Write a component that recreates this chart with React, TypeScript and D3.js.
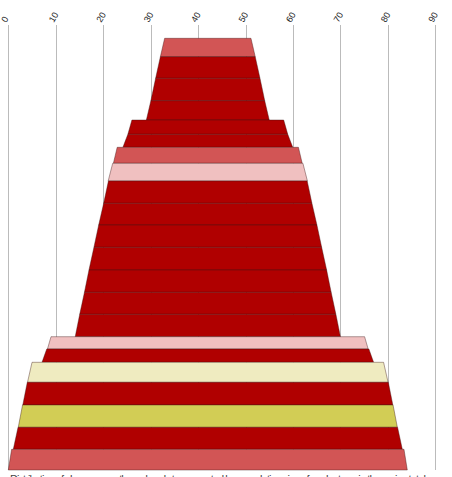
import React, { useEffect, useRef } from 'react';
import * as d3 from 'd3';

// axis ticks along the top
const ticks = [0, 10, 20, 30, 40, 50, 60, 70, 80, 90];

// band widths (axis units) at top and bottom edge, top to bottom
const topWidths = [18.2, 20.0, 22.0, 24.0, 32.0, 33.7, 38.2, 40.1, 41.9, 43.9, 46.0, 48.0, 50.1, 52.0, 54.0, 66.1, 67.9, 74.1, 76.1, 78.1, 80.0, 82.7];
const bottomWidths = [20.0, 22.0, 24.0, 25.9, 33.7, 35.8, 39.8, 42.0, 43.9, 46.0, 48.0, 50.1, 52.0, 54.0, 55.9, 67.6, 69.9, 76.0, 78.0, 79.9, 82.0, 84.1];
// band thickness
const sizes = [18.4, 21.6, 22.4, 19.3, 14.3, 13, 16, 17.7, 22.3, 21.7, 22.3, 22.7, 22.3, 22, 22.4, 12.3, 13.3, 20, 22.7, 22.3, 22, 20.7];
const kinds = ['light', 'dark', 'dark', 'dark', 'dark', 'dark', 'light', 'pink', 'dark', 'dark', 'dark', 'dark', 'dark', 'dark', 'dark', 'pink', 'dark', 'cream', 'dark', 'olive', 'dark', 'light'];
const center = 42.05;

const footer = ['Distribution of share across the ordered stages, sorted by', 'relative size of each stage in the series total'];

const fills: Record<string, string> = {
  dark: '#b00000',
  light: '#d25555',
  pink: '#f0c0c0',
  cream: '#efebc0',
  olive: '#d2cd55',
};

const App: React.FC = () => {
  const svgRef = useRef<SVGSVGElement>(null);

  useEffect(() => {
    if (!svgRef.current) return;
    const svg = d3.select(svgRef.current);
    svg.selectAll('*').remove();

    const x = d3.scaleLinear().domain([0, 90]).range([8.3, 435.3]);
    const total = d3.sum(sizes);
    const y = d3.scaleLinear().domain([0, total]).range([38.3, 470]);
    const cum = d3.cumsum(sizes);

    // gridlines
    svg.append('g')
      .selectAll('line')
      .data(ticks)
      .join('line')
      .attr('x1', d => Math.round(x(d)) + 0.5)
      .attr('x2', d => Math.round(x(d)) + 0.5)
      .attr('y1', 25)
      .attr('y2', 470)
      .attr('stroke', '#bbbbbb')
      .attr('stroke-width', 1);

    svg.append('g')
      .selectAll('text')
      .data(ticks)
      .join('text')
      .attr('transform', d => `translate(${x(d) - 2},23) rotate(-60)`)
      .attr('font-size', '9px')
      .attr('font-family', '"Liberation Sans", Arial, sans-serif')
      .attr('fill', '#222')
      .text(d => d);

    const bands = sizes.map((s, i) => {
      const y0 = y(cum[i] - s);
      const y1 = y(cum[i]);
      const t = topWidths[i] / 2;
      const b = bottomWidths[i] / 2;
      return { y0, y1, t, b, kind: kinds[i] };
    });

    svg.append('g')
      .selectAll('path')
      .data(bands)
      .join('path')
      .attr('d', d => {
        const p = d3.path();
        p.moveTo(x(center - d.t), d.y0);
        p.lineTo(x(center + d.t), d.y0);
        p.lineTo(x(center + d.b), d.y1);
        p.lineTo(x(center - d.b), d.y1);
        p.closePath();
        return p.toString();
      })
      .attr('fill', d => fills[d.kind])
      .attr('stroke', 'rgba(60,20,20,0.5)')
      .attr('stroke-width', 0.8);

    svg.append('g')
      .selectAll('text')
      .data(footer)
      .join('text')
      .attr('x', (_, i) => (i === 0 ? 10 : 252))
      .attr('y', 483)
      .attr('font-size', '11px')
      .attr('font-family', '"Liberation Sans", Arial, sans-serif')
      .attr('fill', '#444')
      .attr('textLength', (_, i) => (i === 0 ? 226 : 174))
      .text(d => d);
  }, []);

  return (
    <svg ref={svgRef} width={452} height={477} style={{ position: 'absolute', left: 0, top: 0, background: '#fff' }} />
  );
};

export default App;
